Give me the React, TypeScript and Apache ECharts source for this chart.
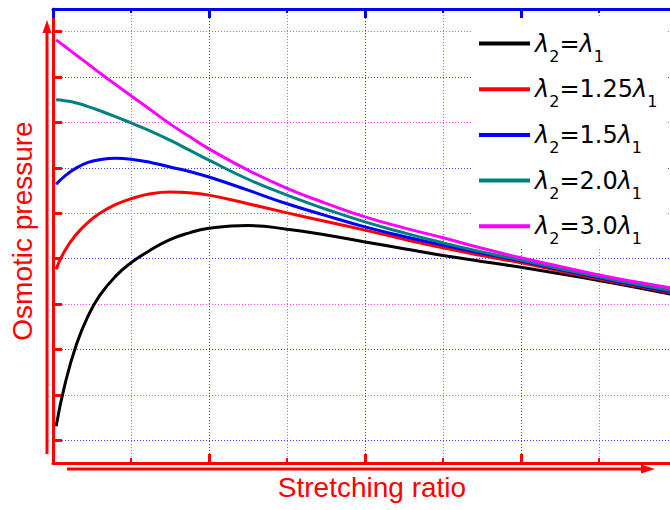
import React, { useEffect, useRef } from 'react';
import * as echarts from 'echarts';

// Stretching ratio samples (x in grid units)
const stretch = [0.04, 0.15, 0.3, 0.45, 0.6, 0.8, 1.0, 1.25, 1.5, 1.75, 2.0, 2.5, 3.0, 3.5, 4.0, 4.5, 5.0, 5.5, 6.0, 6.5, 7.0, 7.5, 8.0];

// Osmotic pressure (y in grid units) for each ratio
const ratioEqual = [0.31, 1.21, 2.11, 2.74, 3.19, 3.61, 3.91, 4.19, 4.42, 4.57, 4.67, 4.73, 4.65, 4.52, 4.37, 4.22, 4.07, 3.94, 3.81, 3.67, 3.52, 3.36, 3.19];
const ratio125 = [3.77, 4.17, 4.54, 4.8, 5.0, 5.19, 5.32, 5.43, 5.47, 5.45, 5.4, 5.21, 5.01, 4.82, 4.63, 4.43, 4.24, 4.07, 3.91, 3.73, 3.55, 3.39, 3.22];
const ratio15 = [5.64, 5.82, 6.0, 6.12, 6.18, 6.21, 6.19, 6.12, 6.02, 5.92, 5.8, 5.51, 5.21, 4.95, 4.7, 4.49, 4.3, 4.12, 3.95, 3.76, 3.58, 3.41, 3.24];
const ratio20 = [7.5, 7.48, 7.43, 7.35, 7.26, 7.13, 6.99, 6.81, 6.61, 6.39, 6.17, 5.75, 5.4, 5.09, 4.81, 4.57, 4.35, 4.15, 3.97, 3.78, 3.6, 3.43, 3.27];
const ratio30 = [8.82, 8.68, 8.48, 8.29, 8.09, 7.84, 7.59, 7.28, 6.97, 6.69, 6.42, 5.95, 5.55, 5.22, 4.92, 4.68, 4.46, 4.23, 4.02, 3.83, 3.64, 3.48, 3.33];

const seriesNames = ['λ2=λ1', 'λ2=1.25λ1', 'λ2=1.5λ1', 'λ2=2.0λ1', 'λ2=3.0λ1'];
const legendRich = [
  '{l|λ}{s|2}{t|=}{l|λ}{s|1}',
  '{l|λ}{s|2}{t|=1.25}{l|λ}{s|1}',
  '{l|λ}{s|2}{t|=1.5}{l|λ}{s|1}',
  '{l|λ}{s|2}{t|=2.0}{l|λ}{s|1}',
  '{l|λ}{s|2}{t|=3.0}{l|λ}{s|1}',
];
const seriesValues = [ratioEqual, ratio125, ratio15, ratio20, ratio30];
const seriesColors = ['#000000', '#ff0000', '#0000ff', '#008080', '#ff00ff'];

const xTitle = 'Stretching ratio';
const yTitle = 'Osmotic pressure';

const FONT = '"Liberation Sans", Arial, sans-serif';
const LFONT = '"DejaVu Sans", sans-serif';
const RED = '#ff0000';
const BLUE = '#0000ff';
const GRID_BLUE = '#3a3aff';
const GRID_MAG = '#ff40ff';

export default function App() {
  const ref = useRef<HTMLDivElement>(null);
  useEffect(() => {
    if (!ref.current) return;
    const chart = echarts.init(ref.current, null, { renderer: 'svg' });
    const option: any = {
      animation: false,
      backgroundColor: '#ffffff',
      grid: [
        { left: 53, top: 9, width: 624, height: 454, outerBoundsMode: 'none', containLabel: false },
        { left: 53, top: -13.7, width: 624, height: 454, outerBoundsMode: 'none', containLabel: false },
      ],
      xAxis: [
        {
          gridIndex: 0, type: 'value', position: 'bottom', min: 0, max: 8, interval: 2,
          axisLine: { show: true, onZero: false, lineStyle: { color: RED, width: 3 } },
          axisTick: { show: true, inside: true, length: 9, lineStyle: { color: RED, width: 3 } },
          minorTick: { show: true, splitNumber: 2, length: 5, lineStyle: { color: RED, width: 2 } },
          axisLabel: { show: false },
          splitLine: { show: true, lineStyle: { color: GRID_BLUE, width: 1, type: [1, 2] } },
          minorSplitLine: { show: true, lineStyle: { color: GRID_MAG, width: 1, type: [1, 2] } },
        },
        {
          gridIndex: 0, type: 'value', position: 'top', min: 0, max: 8, interval: 2,
          axisLine: { show: true, onZero: false, lineStyle: { color: BLUE, width: 3 } },
          axisTick: { show: true, inside: true, length: 9, lineStyle: { color: BLUE, width: 3 } },
          minorTick: { show: true, splitNumber: 2, length: 4, lineStyle: { color: BLUE, width: 2 } },
          axisLabel: { show: false },
          splitLine: { show: false },
        },
        { gridIndex: 1, type: 'value', min: 0, max: 8, show: false },
      ],
      yAxis: [
        {
          gridIndex: 0, type: 'value', min: -0.5, max: 9.5,
          axisLine: { show: true, onZero: false, lineStyle: { color: RED, width: 3 } },
          axisTick: { show: false },
          axisLabel: { show: false },
          splitLine: { show: false },
        },
        {
          gridIndex: 1, type: 'value', min: 0, max: 10, interval: 2,
          axisLine: { show: false, onZero: false },
          axisTick: { show: true, inside: true, length: 9, lineStyle: { color: RED, width: 3 } },
          minorTick: { show: true, splitNumber: 2, length: 9, lineStyle: { color: RED, width: 3 } },
          axisLabel: { show: false },
          splitLine: { show: true, lineStyle: { color: GRID_BLUE, width: 1, type: [1, 2] } },
          minorSplitLine: { show: true, lineStyle: { color: GRID_MAG, width: 1, type: [1, 2] } },
        },
      ],
      legend: {
        orient: 'vertical',
        left: 473,
        top: 18,
        padding: [5, 10, 0, 6],
        itemGap: 4.7,
        itemWidth: 51,
        itemHeight: 4,
        icon: 'rect',
        backgroundColor: '#ffffff',
        z: 1,
        selectedMode: false,
        data: seriesNames,
        formatter: (name: string) => legendRich[seriesNames.indexOf(name)],
        textStyle: {
          color: '#000',
          rich: {
            t: { fontFamily: LFONT, fontSize: 24, color: '#000', lineHeight: 26 },
            l: { fontFamily: LFONT, fontSize: 24, fontStyle: 'italic', color: '#000', lineHeight: 26 },
            s: { fontFamily: LFONT, fontSize: 16, color: '#000', lineHeight: 15, padding: [25, 0, 0, 0] },
          },
        },
      },
      series: seriesNames.map((name, i) => ({
        type: 'line',
        name,
        xAxisIndex: 0,
        yAxisIndex: 0,
        data: stretch.map((x, j) => [x, seriesValues[i][j]]),
        smooth: 0.5,
        showSymbol: false,
        symbol: 'none',
        lineStyle: { color: seriesColors[i], width: 3 },
        itemStyle: { color: seriesColors[i] },
        z: 3,
      })),
      graphic: [
        { type: 'line', shape: { x1: 47, y1: 454, x2: 47, y2: 30 }, style: { stroke: RED, lineWidth: 3 } },
        { type: 'polygon', shape: { points: [[47, 20], [42.5, 33], [51.5, 33]] }, style: { fill: RED } },
        { type: 'line', shape: { x1: 67, y1: 469, x2: 644, y2: 469 }, style: { stroke: RED, lineWidth: 3 } },
        { type: 'polygon', shape: { points: [[655, 469], [641, 464.5], [641, 473.5]] }, style: { fill: RED } },
        {
          type: 'text', x: 372, y: 487,
          style: { text: xTitle, font: `28px ${FONT}`, fill: RED, align: 'center', verticalAlign: 'middle' },
        },
        {
          type: 'text', x: 22, y: 231, rotation: Math.PI / 2,
          style: { text: yTitle, font: `28px ${FONT}`, fill: RED, align: 'center', verticalAlign: 'middle' },
        },
      ],
    };
    chart.setOption(option);
    return () => chart.dispose();
  }, []);
  return <div ref={ref} style={{ position: 'fixed', left: 0, top: 0, width: 670, height: 510 }} />;
}
